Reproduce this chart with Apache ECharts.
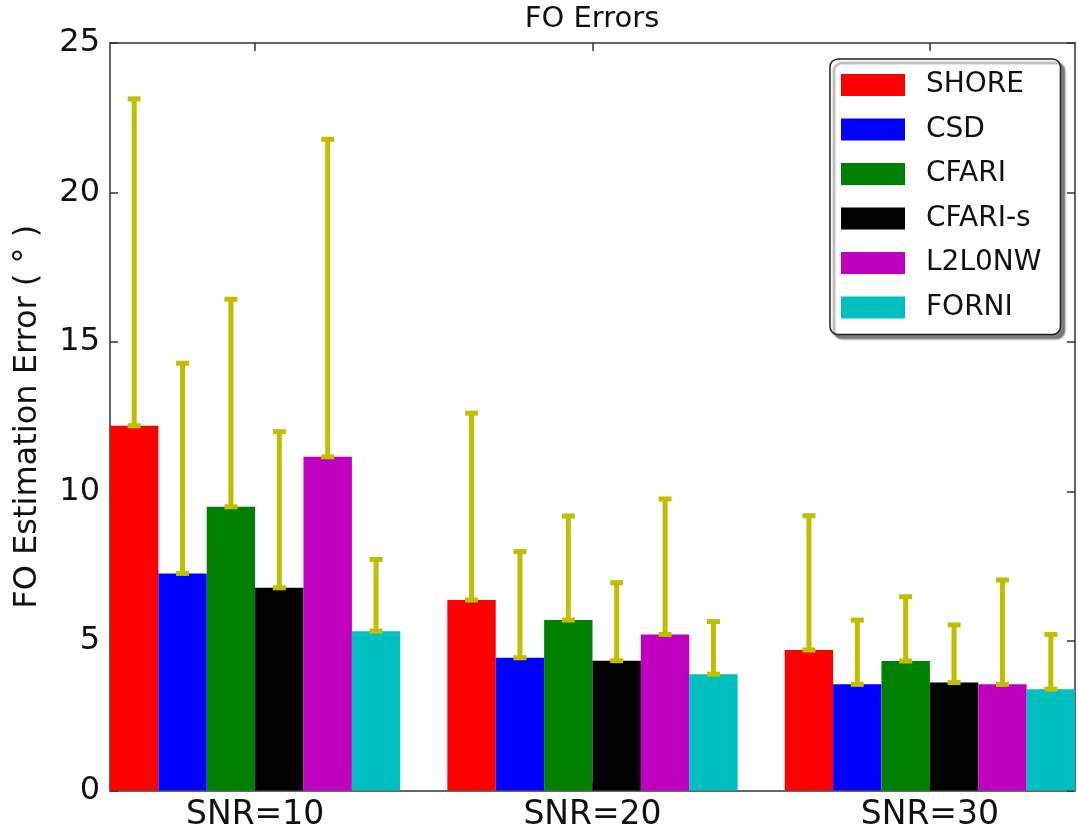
<!DOCTYPE html>
<html><head><meta charset="utf-8">
<script src="https://cdn.jsdelivr.net/npm/echarts@6/dist/echarts.min.js"></script>
<style>html,body{margin:0;padding:0;background:#fff}#c{width:1078px;height:839px}</style>
</head><body><div id="c"></div>
<script>
// ---- data ----
const categories = ['SNR=10', 'SNR=20', 'SNR=30'];
const methods = ['SHORE', 'CSD', 'CFARI', 'CFARI-s', 'L2L0NW', 'FORNI'];
const shoreMean  = [12.20, 6.37, 4.70];
const csdMean    = [7.26, 4.44, 3.55];
const cfariMean  = [9.49, 5.70, 4.33];
const cfarisMean = [6.78, 4.34, 3.61];
const l2l0nwMean = [11.16, 5.22, 3.55];
const forniMean  = [5.33, 3.89, 3.39];
const shoreErr   = [10.93, 6.25, 4.49];
const csdErr     = [7.03, 3.55, 2.15];
const cfariErr   = [6.94, 3.48, 2.15];
const cfarisErr  = [5.22, 2.61, 1.93];
const l2l0nwErr  = [10.62, 4.53, 3.49];
const forniErr   = [2.40, 1.76, 1.83];
const yTickValues = [0, 5, 10, 15, 20, 25];

// ---- style / layout ----
const colors = ['#ff0000', '#0000ff', '#008000', '#000000', '#bf00bf', '#00bfbf'];
const ERR_COLOR = '#bfbf00';
const BW = 0.1434;                 // bar width in group units
const NB = methods.length;
const XMAX = (categories.length - 1) + NB * BW;
const CENTER = NB * BW / 2;
const centers = categories.map((c, i) => i + CENTER);
const FONT = 'DejaVu Sans';
const AX = { color: '#333', width: 1.5 };

const means = [shoreMean, csdMean, cfariMean, cfarisMean, l2l0nwMean, forniMean];
const errs = [shoreErr, csdErr, cfariErr, cfarisErr, l2l0nwErr, forniErr];

function makeRender(k) {
  return function (params, api) {
    const g = api.value(0), m = api.value(1), e = api.value(2);
    const x0 = g + k * BW, x1 = x0 + BW;
    const pBL = api.coord([x0, 0]);
    const pTR = api.coord([x1, m]);
    const pTop = api.coord([x0, m + e]);
    const cx = (pBL[0] + pTR[0]) / 2;
    return {
      type: 'group',
      children: [
        { type: 'rect', shape: { x: pBL[0], y: pTR[1], width: pTR[0] - pBL[0], height: pBL[1] - pTR[1] },
          style: { fill: api.visual('color') } },
        { type: 'line', shape: { x1: cx, y1: pTR[1], x2: cx, y2: pTop[1] },
          style: { stroke: ERR_COLOR, lineWidth: 5 } },
        { type: 'rect', shape: { x: cx - 6.5, y: pTR[1] - 2.5, width: 13, height: 5 }, style: { fill: ERR_COLOR } },
        { type: 'rect', shape: { x: cx - 6.5, y: pTop[1] - 2.5, width: 13, height: 5 }, style: { fill: ERR_COLOR } }
      ]
    };
  };
}

const series = methods.map((name, k) => ({
  name: name,
  type: 'custom',
  renderItem: makeRender(k),
  itemStyle: { color: colors[k] },
  encode: { x: 0, y: 1 },
  data: categories.map((c, i) => [i, means[k][i], errs[k][i]])
}));

const chart = echarts.init(document.getElementById('c'));
chart.setOption({
  animation: false,
  color: colors,
  title: {
    text: 'FO Errors', left: 592, top: 5, textAlign: 'center', padding: 0,
    textStyle: { fontFamily: FONT, fontSize: 29, fontWeight: 'normal', color: '#111' }
  },
  grid: { left: 110, right: 3, top: 43, bottom: 48.5, containLabel: false },
  legend: {
    data: methods, orient: 'vertical', left: 830, top: 59, icon: 'rect',
    itemWidth: 64, itemHeight: 22, itemGap: 14.5, selectedMode: false,
    padding: [11, 19, 12, 11],
    backgroundColor: '#fff', borderColor: '#222', borderWidth: 1.5, borderRadius: 8,
    shadowColor: 'rgba(0,0,0,0.5)', shadowBlur: 2, shadowOffsetX: 4, shadowOffsetY: 4,
    textStyle: { fontFamily: FONT, fontSize: 28, color: '#111', lineHeight: 30, padding: [0, 0, 0, 16] }
  },
  xAxis: [
    {
      type: 'value', min: 0, max: XMAX, position: 'bottom',
      axisLine: { show: true, onZero: false, lineStyle: AX },
      axisTick: { show: true, inside: true, length: 8, customValues: centers, lineStyle: AX },
      axisLabel: { customValues: centers, margin: 8, fontFamily: FONT, fontSize: 33, color: '#111',
        formatter: v => categories[Math.round(v - CENTER)] },
      splitLine: { show: false }
    },
    {
      type: 'value', min: 0, max: XMAX, position: 'top',
      axisLine: { show: true, onZero: false, lineStyle: AX },
      axisTick: { show: true, inside: true, length: 8, customValues: centers, lineStyle: AX },
      axisLabel: { show: false },
      splitLine: { show: false }
    }
  ],
  yAxis: [
    {
      type: 'value', min: 0, max: 25, interval: 5, position: 'left',
      name: 'FO Estimation Error ( ° )', nameLocation: 'middle', nameGap: 66,
      nameTextStyle: { fontFamily: FONT, fontSize: 32, color: '#111' },
      axisLine: { show: true, onZero: false, lineStyle: AX },
      axisTick: { show: true, inside: true, length: 8, customValues: yTickValues, lineStyle: AX },
      axisLabel: { customValues: yTickValues, margin: 10, fontFamily: FONT, fontSize: 32, color: '#111' },
      splitLine: { show: false }
    },
    {
      type: 'value', min: 0, max: 25, interval: 5, position: 'right',
      axisLine: { show: true, onZero: false, lineStyle: AX },
      axisTick: { show: true, inside: true, length: 8, lineStyle: AX },
      axisLabel: { show: false },
      splitLine: { show: false }
    }
  ],
  series: series
});
</script>
</body></html>
